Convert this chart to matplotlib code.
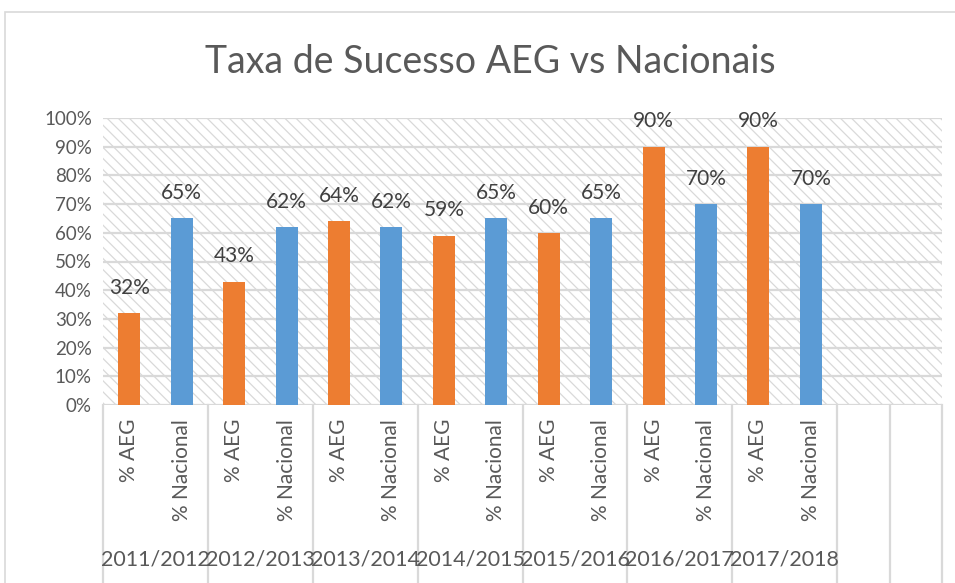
import matplotlib
matplotlib.use("Agg")
import matplotlib.pyplot as plt
from matplotlib.patches import Rectangle
from matplotlib.transforms import blended_transform_factory

years = ["2011/2012", "2012/2013", "2013/2014", "2014/2015", "2015/2016", "2016/2017", "2017/2018"]
sub_labels = ["% AEG", "% Nacional"]
aeg = [32, 43, 64, 59, 60, 90, 90]
nacional = [65, 62, 62, 65, 65, 70, 70]
n_empty_slots = 2

plt.rcParams['font.family'] = ['Lato', 'DejaVu Sans']
plt.rcParams['hatch.linewidth'] = 0.9
txt = '#595959'

fig = plt.figure(figsize=(9.55, 5.83), dpi=100)
W, H = 955, 583
ax = fig.add_axes([103 / W, 1 - 405 / H, (942 - 103) / W, (405 - 118) / H])

# outer border
fig.patches.append(Rectangle((5 / W, -0.1), 1.2, 1 - 12 / H + 0.1, transform=fig.transFigure,
                             fill=False, edgecolor='#d9d9d9', lw=1.2, zorder=0))

n_slots = 2 * len(years) + n_empty_slots
x_aeg = [2 * i for i in range(len(years))]
x_nac = [2 * i + 1 for i in range(len(years))]

ax.set_xlim(-0.5, n_slots - 0.5)
ax.set_ylim(0, 100)

# hatched background
ax.add_patch(Rectangle((0, 0), 1, 1, transform=ax.transAxes, facecolor='white',
                       edgecolor='#d9d9d9', lw=0, hatch='\\\\\\', zorder=0))

for y in range(10, 101, 10):
    ax.axhline(y, color='#d9d9d9', lw=1.6, zorder=1)
ax.axhline(0, color='#d9d9d9', lw=1.6, zorder=1)

bw = 0.42
ax.bar(x_aeg, aeg, width=bw, color='#ED7D31', zorder=3)
ax.bar(x_nac, nacional, width=bw, color='#5B9BD5', zorder=3)
for xs, vals in ((x_aeg, aeg), (x_nac, nacional)):
    for x, v in zip(xs, vals):
        ax.annotate(f"{v}%", (x, v), xytext=(0, 11), textcoords='offset points',
                    ha='center', va='bottom', fontsize=15, color='#404040', zorder=4)

for s in ax.spines.values():
    s.set_visible(False)

ax.set_yticks(range(0, 101, 10))
ax.set_yticklabels([f"{y}%" for y in range(0, 101, 10)], fontsize=13.5, color=txt)
ax.tick_params(axis='y', length=0, pad=8)

ticks = x_aeg + x_nac
labels = [sub_labels[0]] * len(x_aeg) + [sub_labels[1]] * len(x_nac)
ax.set_xticks(ticks)
ax.set_xticklabels(labels, rotation=90, fontsize=15, color=txt, va='top', ha='center')
ax.tick_params(axis='x', length=0, pad=10)

trans = blended_transform_factory(ax.transData, ax.transAxes)
y_bot = (405 - 600) / (405 - 118)
seps = [2 * i - 0.5 for i in range(len(years) + 1)] + [2 * len(years) + 0.5 + k for k in range(n_empty_slots)]
for sx in seps:
    ax.plot([sx, sx], [0, y_bot], transform=trans, color='#d9d9d9', lw=1.6, clip_on=False)

y_grp = (405 - 560) / (405 - 118)
for i, yr in enumerate(years):
    ax.text(2 * i + 0.5, y_grp, yr, transform=trans, ha='center', va='center',
            fontsize=15.5, color=txt)

fig.text(490 / W, 1 - 62 / H, "Taxa de Sucesso AEG vs Nacionais", ha='center', va='center',
         fontsize=27, color=txt)

fig.savefig("out.png", dpi=100)
